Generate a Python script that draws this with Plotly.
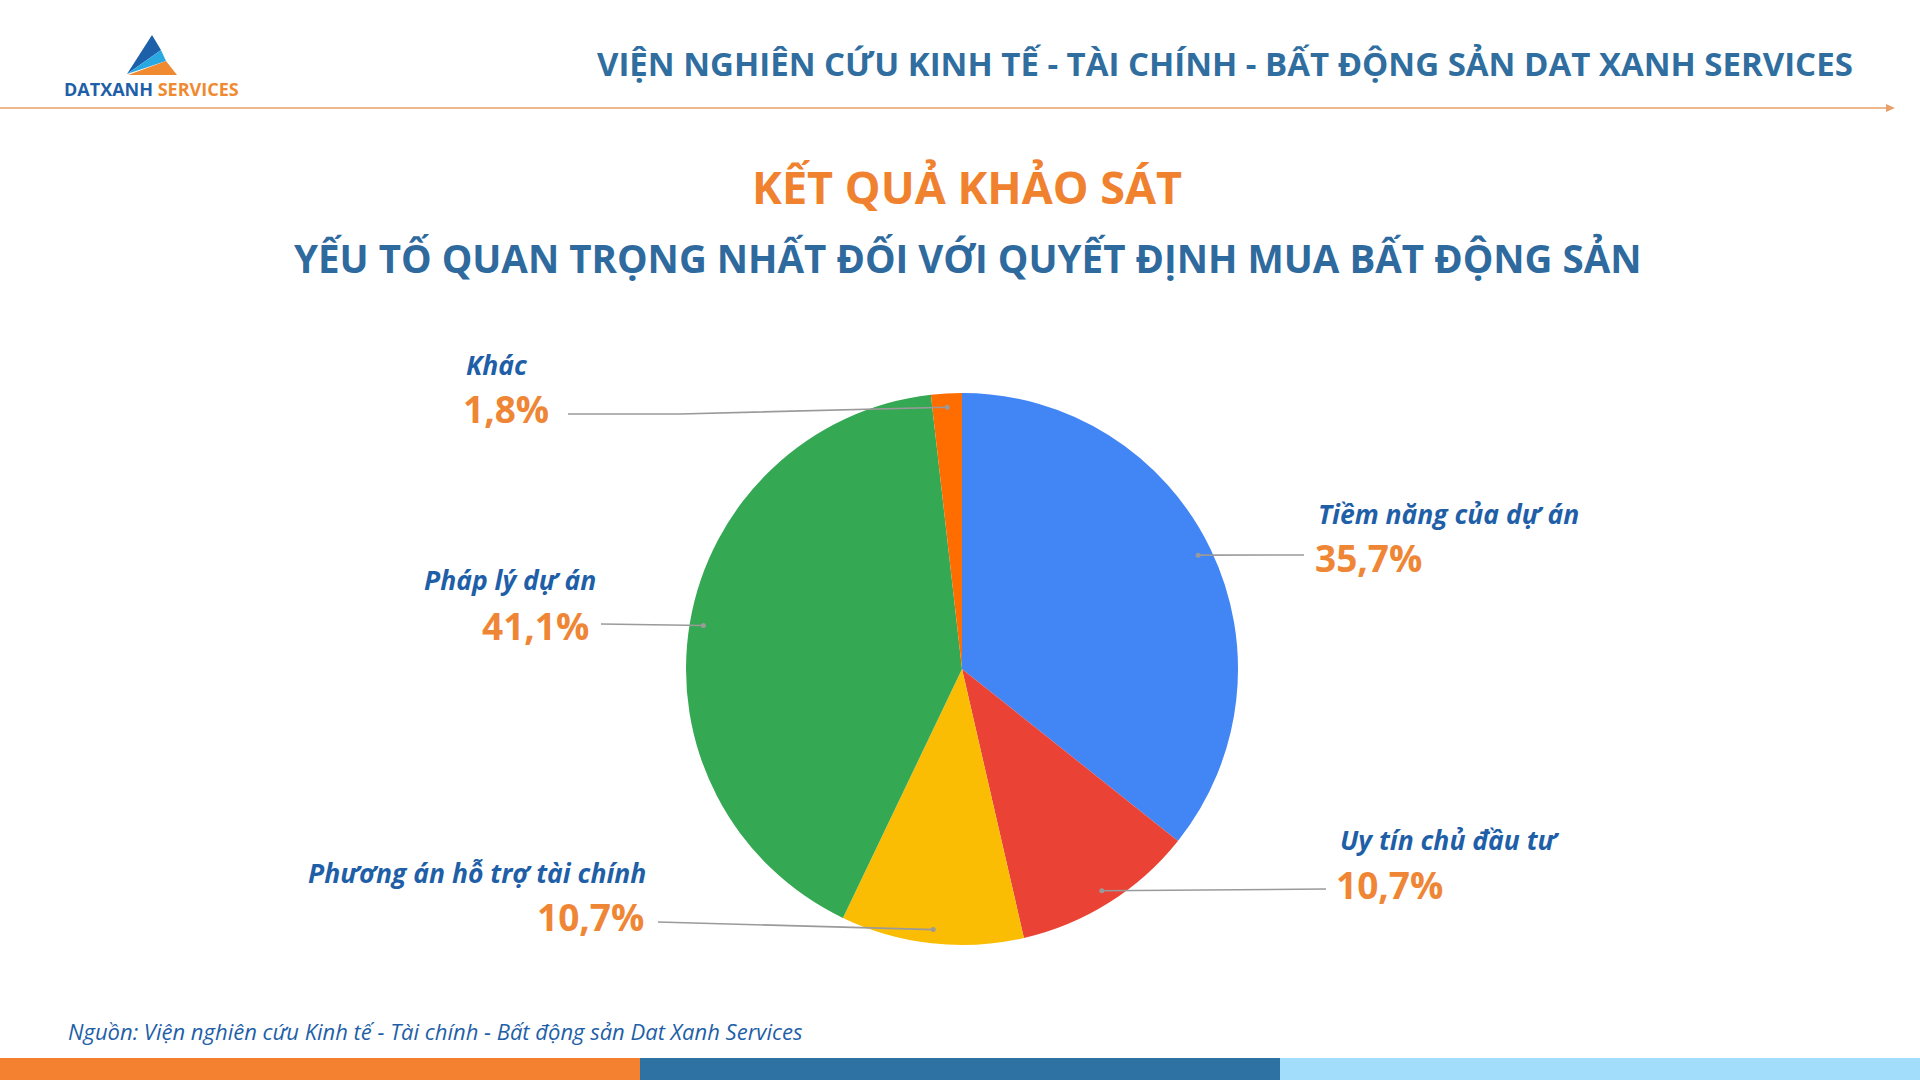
import math
import plotly.graph_objects as go

# ---- data ----
categories = ["Tiềm năng của dự án", "Uy tín chủ đầu tư", "Phương án hỗ trợ tài chính", "Pháp lý dự án", "Khác"]
values = [35.7, 10.7, 10.7, 41.1, 1.8]
value_labels = ["35,7%", "10,7%", "10,7%", "41,1%", "1,8%"]
colors = ["#4285F4", "#EA4335", "#FBBC04", "#34A853", "#FF6D01"]

W, H = 1920, 1080
CX, CY, R = 962, 669, 276  # pie center / radius in px

def px(x):
    return x / W

def py(y):
    return 1 - y / H

fig = go.Figure()
fig.add_trace(go.Pie(
    labels=categories, values=values, sort=False, direction="clockwise", rotation=0,
    marker=dict(colors=colors, line=dict(width=0)), textinfo="none", hoverinfo="label+percent",
    domain=dict(x=[px(CX - R), px(CX + R)], y=[py(CY + R), py(CY - R)]),
    showlegend=False,
))

shapes = []
annotations = []

label_layout = [
    dict(anchor="left", nx=1316, ny=514, vx=1313, vy=557, path=[(1304, 555)]),
    dict(anchor="left", nx=1338, ny=840, vx=1334, vy=884, path=[(1326, 889)]),
    dict(anchor="right", nx=648, ny=873, vx=646, vy=916, path=[(658, 922)]),
    dict(anchor="right", nx=598, ny=580, vx=591, vy=625, path=[(601, 624)]),
    dict(anchor="left", nx=464, ny=365, vx=461, vy=408, path=[(680, 414), (568, 414)]),
]

total = sum(values)
cum = 0.0
for cat, v, lab, L in zip(categories, values, value_labels, label_layout):
    mid = (cum + v / 2) / total * 2 * math.pi
    cum += v
    dx = CX + 0.95 * R * math.sin(mid)
    dy = CY - 0.95 * R * math.cos(mid)
    pts = [(dx, dy)] + L["path"]
    path = "M " + " L ".join(f"{px(x)},{py(y)}" for x, y in pts)
    shapes.append(dict(type="path", xref="paper", yref="paper", path=path,
                       line=dict(color="#9A9A9A", width=1.6)))
    shapes.append(dict(type="circle", xref="paper", yref="paper",
                       x0=px(dx - 2.5), x1=px(dx + 2.5), y0=py(dy + 2.5), y1=py(dy - 2.5),
                       fillcolor="#9A9A9A", line=dict(width=0)))
    annotations.append(dict(text=cat, x=px(L["nx"]), y=py(L["ny"]), xref="paper", yref="paper",
                            xanchor=L["anchor"], yanchor="middle", showarrow=False,
                            font=dict(family="Open Sans", size=26.5, color="#1F5FA8",
                                      weight="bold", style="italic")))
    annotations.append(dict(text=lab, x=px(L["vx"]), y=py(L["vy"]), xref="paper", yref="paper",
                            xanchor=L["anchor"], yanchor="middle", showarrow=False,
                            font=dict(family="Open Sans", size=37, color="#EF8636", weight="bold")))

# header
annotations.append(dict(text="VIỆN NGHIÊN CỨU KINH TẾ - TÀI CHÍNH - BẤT ĐỘNG SẢN DAT XANH SERVICES",
                        x=px(1855), y=py(64), xref="paper", yref="paper", xanchor="right", yanchor="middle",
                        showarrow=False,
                        font=dict(family="Open Sans", size=33, color="#2F6E9F", weight="bold")))
annotations.append(dict(text="<span style='color:#1F5FA8'>DATXANH</span> <span style='color:#F08A30'>SERVICES</span>",
                        x=px(151), y=py(89), xref="paper", yref="paper", xanchor="center", yanchor="middle",
                        showarrow=False, font=dict(family="Open Sans", size=18, weight="bold")))
# titles
annotations.append(dict(text="KẾT QUẢ KHẢO SÁT", x=px(967), y=py(186), xref="paper", yref="paper",
                        xanchor="center", yanchor="middle", showarrow=False,
                        font=dict(family="Open Sans", size=45, color="#F0822F", weight="bold")))
annotations.append(dict(text="YẾU TỐ QUAN TRỌNG NHẤT ĐỐI VỚI QUYẾT ĐỊNH MUA BẤT ĐỘNG SẢN",
                        x=px(968), y=py(258), xref="paper", yref="paper",
                        xanchor="center", yanchor="middle", showarrow=False,
                        font=dict(family="Open Sans", size=38.5, color="#2E6A9E", weight="bold")))
# source
annotations.append(dict(text="Nguồn: Viện nghiên cứu Kinh tế - Tài chính - Bất động sản Dat Xanh Services",
                        x=px(66), y=py(1031), xref="paper", yref="paper",
                        xanchor="left", yanchor="middle", showarrow=False,
                        font=dict(family="Open Sans", size=22, color="#1F5FA8", style="italic")))

# header rule with arrow
shapes.append(dict(type="line", xref="paper", yref="paper", x0=0, x1=px(1890), y0=py(108), y1=py(108),
                   line=dict(color="#E8A06A", width=1.5)))
shapes.append(dict(type="path", xref="paper", yref="paper",
                   path=f"M {px(1886)},{py(104)} L {px(1895)},{py(108)} L {px(1886)},{py(112)} Z",
                   fillcolor="#E8A06A", line=dict(width=0)))

# logo
logo = [
    ("#1D5FA8", [(152, 35), (127, 74), (161, 50)]),
    ("#2AA8E2", [(127, 74), (161, 50), (166, 61)]),
    ("#F08A30", [(128, 75), (166, 61), (177, 75)]),
]
for col, pts in logo:
    path = "M " + " L ".join(f"{px(x)},{py(y)}" for x, y in pts) + " Z"
    shapes.append(dict(type="path", xref="paper", yref="paper", path=path, fillcolor=col, line=dict(width=0)))

# bottom bars
for i, col in enumerate(["#F38130", "#2E72A4", "#A2DEFB"]):
    shapes.append(dict(type="rect", xref="paper", yref="paper", x0=i / 3, x1=(i + 1) / 3,
                       y0=0, y1=py(1058), fillcolor=col, line=dict(width=0)))

fig.update_layout(width=W, height=H, margin=dict(l=0, r=0, t=0, b=0),
                  paper_bgcolor="white", plot_bgcolor="white",
                  shapes=shapes, annotations=annotations)

fig.write_html("out.html", config={"displayModeBar": False},
               post_script="document.body.style.margin='0';document.body.style.overflow='hidden';")
